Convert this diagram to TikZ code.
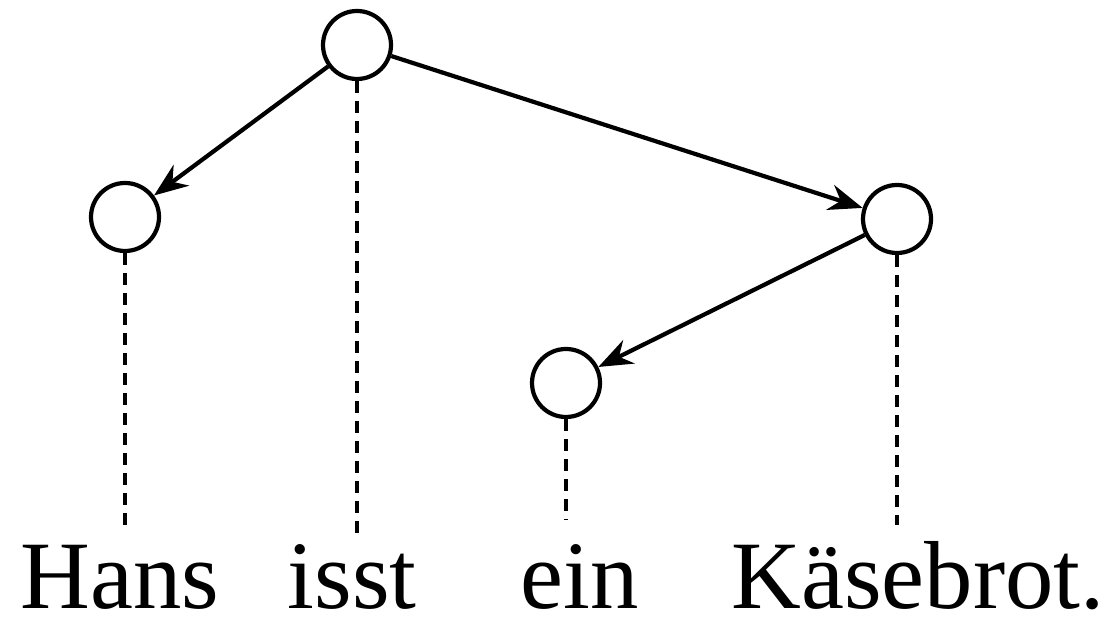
\documentclass[tikz,border=0pt]{standalone}
\usepackage{fontspec}
\setmainfont{Liberation Serif}
\usetikzlibrary{arrows.meta}

\begin{document}
\begin{tikzpicture}[
		knot/.style={draw,circle,line width=1.2pt,minimum size=0.68cm,inner sep=0pt},
		edge/.style={line width=1.2pt,-{Stealth[length=0.34cm,width=0.26cm]}},
		proj/.style={line width=1.2pt,dash pattern=on 0.12cm off 0.08cm},
		word/.style={anchor=base,inner sep=0pt,font=\fontsize{27.5}{33}\selectfont}]

			\useasboundingbox (0,0) rectangle (11.18,6.21);

			%the four knots
			\node[knot] (isst) at (3.57,5.76) {};
			\node[knot] (hans) at (1.25,4.04) {};
			\node[knot] (brot) at (8.97,4.02) {};
			\node[knot] (ein) at (5.66,2.38) {};

			%the words
			\node[word] (whans) at (1.20,0.13) {Hans};
			\node[word] (wisst) at (3.52,0.13) {isst};
			\node[word] (wein) at (5.80,0.13) {ein};
			\node[word] (wbrot) at (9.18,0.13) {Käsebrot.};

			%ends of projection lines
			\coordinate (phans) at (1.25,0.96);
			\coordinate (pisst) at (3.57,0.86);
			\coordinate (pein) at (5.66,1.01);
			\coordinate (pbrot) at (8.97,0.96);

			%dependencies
			\draw[edge] (isst) -- (hans);
			\draw[edge] (isst) -- (brot);
			\draw[edge] (brot) -- (ein);

			%projection
			\draw[proj] (isst.south) -- (pisst);
			\draw[proj] (hans.south) -- (phans);
			\draw[proj] (ein.south) -- (pein);
			\draw[proj] (brot.south) -- (pbrot);

	\end{tikzpicture}
\end{document}
